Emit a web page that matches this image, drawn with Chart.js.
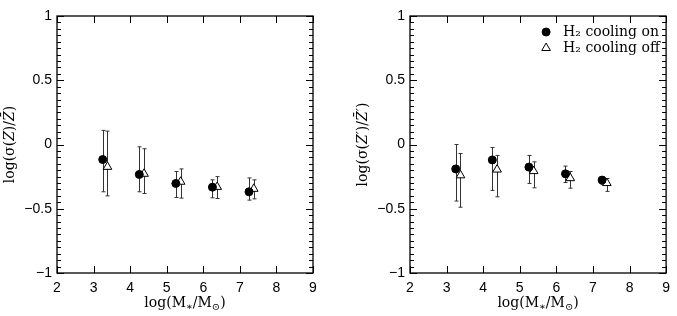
<!DOCTYPE html>
<html>
<head>
<meta charset="utf-8">
<script src="https://cdn.jsdelivr.net/npm/chart.js@4.4.1/dist/chart.umd.min.js"></script>
<style>
  body { margin: 0; background: #fff; }
  #wrap { position: relative; width: 677px; height: 316px; }
  .panel { position: absolute; top: 0; height: 316px; }
</style>
</head>
<body>
<div id="wrap">
  <div class="panel" style="left:0;width:338px"><canvas id="left"></canvas></div>
  <div class="panel" style="left:338px;width:339px"><canvas id="right"></canvas></div>
</div>
<script>
// log(M*/Msun) bins, filled circles (H2 on) and open triangles (H2 off)
const massOn = [3.25, 4.25, 5.25, 6.25, 7.25];
const massOff = [3.38, 4.38, 5.38, 6.38, 7.38];

// left panel: log(sigma(Z)/Zbar)
const zOn = [-0.117, -0.233, -0.303, -0.332, -0.368];
const zOnLo = [-0.368, -0.368, -0.412, -0.415, -0.433];
const zOnHi = [0.11, -0.018, -0.21, -0.275, -0.26];
const zOff = [-0.174, -0.228, -0.29, -0.33, -0.345];
const zOffLo = [-0.40, -0.381, -0.417, -0.42, -0.423];
const zOffHi = [0.104, -0.033, -0.19, -0.25, -0.275];

// right panel: log(sigma(Z')/Zbar')
const zpOn = [-0.19, -0.12, -0.176, -0.228, -0.277];
const zpOnLo = [-0.44, -0.357, -0.303, -0.296, -0.31];
const zpOnHi = [0.0, -0.023, -0.085, -0.168, -0.25];
const zpOff = [-0.24, -0.195, -0.207, -0.262, -0.30];
const zpOffLo = [-0.488, -0.407, -0.337, -0.34, -0.365];
const zpOffHi = [-0.07, -0.085, -0.135, -0.21, -0.265];

const legendLabels = ['H\u2082 cooling on', 'H\u2082 cooling off'];

const serif = '"DejaVu Serif", "Liberation Serif", serif';

function drawRich(ctx, parts, x, y) {
  // measure then draw centered at x
  let total = 0;
  parts.forEach(p => {
    ctx.font = (p.italic ? 'italic ' : '') + (p.sub ? '10px ' : '14px ') + serif;
    p.w = ctx.measureText(p.t).width;
    total += p.w;
  });
  let cx = x - total / 2;
  parts.forEach(p => {
    ctx.font = (p.italic ? 'italic ' : '') + (p.sub ? '10px ' : '14px ') + serif;
    ctx.fillText(p.t, cx, y + (p.sub ? 3 : 0));
    cx += p.w;
  });
}

const frame = {
  id: 'frame',
  beforeDatasetsDraw(chart, args, opts) {
    const ctx = chart.ctx;
    const xs = chart.scales.x, ys = chart.scales.y;
    ctx.save();
    ctx.strokeStyle = '#333';
    ctx.lineWidth = 1;
    opts.bars.forEach(b => {
      b.x.forEach((xv, i) => {
        const px = Math.round(xs.getPixelForValue(xv)) + 0.5;
        const lo = ys.getPixelForValue(b.lo[i]);
        const hi = ys.getPixelForValue(b.hi[i]);
        ctx.beginPath();
        ctx.moveTo(px, lo); ctx.lineTo(px, hi);
        ctx.moveTo(px - 2, lo); ctx.lineTo(px + 2, lo);
        ctx.moveTo(px - 2, hi); ctx.lineTo(px + 2, hi);
        ctx.stroke();
      });
    });
    ctx.restore();
  },
  afterDraw(chart, args, opts) {
    const ctx = chart.ctx;
    const a = chart.chartArea;
    const xs = chart.scales.x, ys = chart.scales.y;
    ctx.save();
    ctx.strokeStyle = '#000';
    ctx.lineWidth = 1.3;
    ctx.strokeRect(a.left, a.top, a.right - a.left, a.bottom - a.top);
    ctx.lineWidth = 1;
    ctx.beginPath();
    for (let v = 2; v <= 9; v++) {
      const px = Math.round(xs.getPixelForValue(v)) + 0.5;
      ctx.moveTo(px, a.bottom); ctx.lineTo(px, a.bottom - 7);
      ctx.moveTo(px, a.top); ctx.lineTo(px, a.top + 7);
    }
    for (let k = -20; k <= 20; k++) {
      const py = Math.round(ys.getPixelForValue(k * 0.05)) + 0.5;
      const len = k % 10 === 0 ? 7 : 4;
      ctx.moveTo(a.left, py); ctx.lineTo(a.left + len, py);
      ctx.moveTo(a.right, py); ctx.lineTo(a.right - len, py);
    }
    ctx.stroke();

    // axis titles
    ctx.fillStyle = '#000';
    ctx.textBaseline = 'alphabetic';
    drawRich(ctx, [{t: 'log(M'}, {t: '\u2217', sub: true}, {t: '/M'}, {t: '\u2299', sub: true}, {t: ')'}],
      (a.left + a.right) / 2, a.bottom + 34);
    ctx.save();
    ctx.translate(a.left - 43, (a.top + a.bottom) / 2);
    ctx.rotate(-Math.PI / 2);
    drawRich(ctx, opts.yTitle, 0, 0);
    ctx.restore();

    if (opts.legend) {
      const lx = a.right - 120;
      [[32, 'circle', '#000', 4], [48, 'triangle', '#fff', 5]].forEach((row, i) => {
        ctx.fillStyle = row[2];
        ctx.strokeStyle = '#000';
        ctx.lineWidth = 1;
        Chart.helpers.drawPoint(ctx, {pointStyle: row[1], radius: row[3], borderWidth: 1}, lx, row[0]);
        ctx.fillStyle = '#000';
        ctx.font = '14px ' + serif;
        ctx.textBaseline = 'middle';
        ctx.fillText(legendLabels[i], lx + 17, row[0]);
      });
    }
    ctx.restore();
  }
};

function makePanel(id, yTitle, onY, onLo, onHi, offY, offLo, offHi, yWidth, rightPad, legend) {
  const onPts = massOn.map((m, i) => ({x: m, y: onY[i]}));
  const offPts = massOff.map((m, i) => ({x: m, y: offY[i]}));
  return new Chart(document.getElementById(id), {
    type: 'scatter',
    data: {
      datasets: [{
        label: legendLabels[0],
        data: onPts,
        pointStyle: 'circle',
        pointRadius: 4,
        backgroundColor: '#000',
        borderColor: '#000',
        borderWidth: 1
      }, {
        label: legendLabels[1],
        data: offPts,
        pointStyle: 'triangle',
        pointRadius: 5,
        backgroundColor: '#fff',
        borderColor: '#000',
        borderWidth: 1
      }]
    },
    options: {
      responsive: true,
      maintainAspectRatio: false,
      animation: false,
      layout: { padding: { top: 16, right: rightPad, left: 0, bottom: 0 } },
      plugins: {
        legend: { display: false },
        tooltip: { enabled: false },
        frame: {
          yTitle: yTitle,
          legend: legend,
          bars: [
            {x: massOn, lo: onLo, hi: onHi},
            {x: massOff, lo: offLo, hi: offHi}
          ]
        }
      },
      scales: {
        x: {
          type: 'linear', min: 2, max: 9,
          afterFit: s => { s.height = 43; },
          grid: { display: false, drawTicks: false },
          border: { display: false },
          ticks: { stepSize: 1, padding: 7, color: '#000', font: { family: '"Liberation Sans", Arial, sans-serif', size: 14 } }
        },
        y: {
          type: 'linear', min: -1, max: 1,
          afterFit: s => { s.width = yWidth; },
          grid: { display: false, drawTicks: false },
          border: { display: false },
          ticks: {
            stepSize: 0.5, padding: 5, color: '#000',
            font: { family: '"Liberation Sans", Arial, sans-serif', size: 14 },
            callback: v => (v < 0 ? '\u2212' + Math.abs(v) : '' + v)
          }
        }
      }
    },
    plugins: [frame]
  });
}

makePanel('left',
  [{t: 'log(\u03c3('}, {t: 'Z', italic: true}, {t: ')/'}, {t: 'Z\u0304', italic: true}, {t: ')'}],
  zOn, zOnLo, zOnHi, zOff, zOffLo, zOffHi, 57, 25, false);
makePanel('right',
  [{t: 'log(\u03c3('}, {t: 'Z\u2032', italic: true}, {t: ')/'}, {t: 'Z\u0304\u2032', italic: true}, {t: ')'}],
  zpOn, zpOnLo, zpOnHi, zpOff, zpOffLo, zpOffHi, 72, 10, true);
</script>
</body>
</html>
